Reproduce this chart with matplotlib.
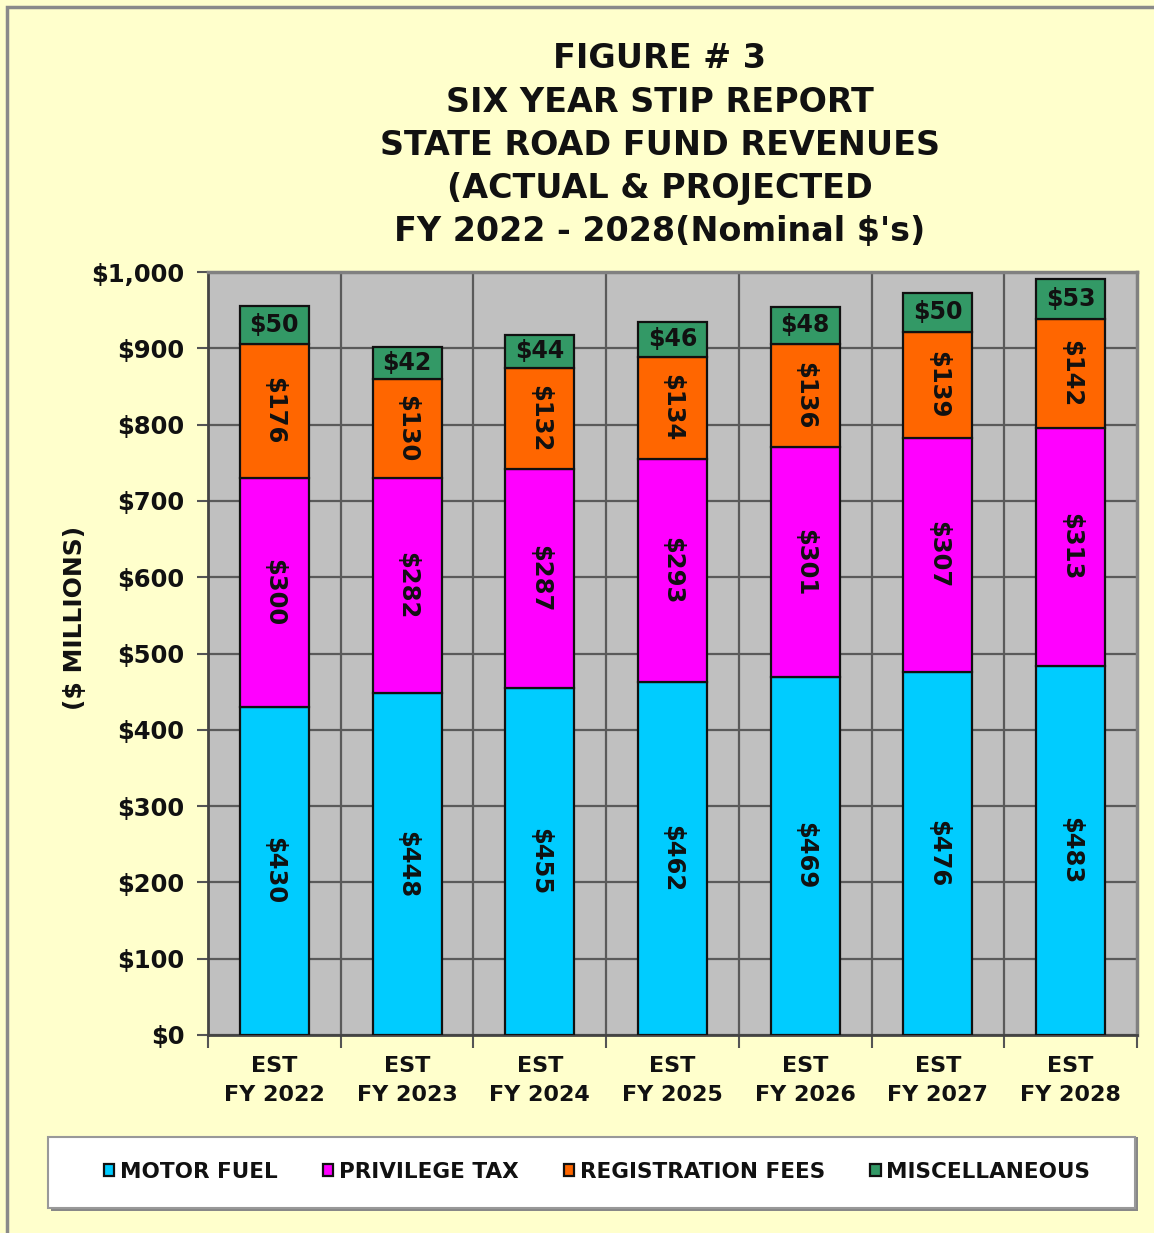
import matplotlib
matplotlib.use("Agg")
import matplotlib.pyplot as plt
import numpy as np
from matplotlib.patches import Rectangle

categories = ["EST\nFY 2022", "EST\nFY 2023", "EST\nFY 2024", "EST\nFY 2025",
              "EST\nFY 2026", "EST\nFY 2027", "EST\nFY 2028"]
motor_fuel = [430, 448, 455, 462, 469, 476, 483]
privilege_tax = [300, 282, 287, 293, 301, 307, 313]
registration_fees = [176, 130, 132, 134, 136, 139, 142]
miscellaneous = [50, 42, 44, 46, 48, 50, 53]
series_names = ["MOTOR FUEL", "PRIVILEGE TAX", "REGISTRATION FEES", "MISCELLANEOUS"]
colors = ["#00CCFF", "#FF00FF", "#FF6600", "#339966"]
yticks = [0, 100, 200, 300, 400, 500, 600, 700, 800, 900, 1000]
title_lines = ["FIGURE # 3", "SIX YEAR STIP REPORT", "STATE ROAD FUND REVENUES",
               "(ACTUAL & PROJECTED", "FY 2022 - 2028(Nominal $'s)"]

plt.rcParams['font.family'] = ['DejaVu Sans']
plt.rcParams['font.weight'] = 'bold'

W, H = 1154, 1233
fig = plt.figure(figsize=(W / 100, H / 100), dpi=100)
fig.patch.set_facecolor("#FFFFCC")

# outer border
fig.patches.append(Rectangle((7 / W, -0.05), 1.2, 1 - 7 / H + 0.05, transform=fig.transFigure,
                             fill=False, edgecolor="#8a8a8a", linewidth=2.5, zorder=0))

ax = fig.add_axes([208 / W, 1 - 1035 / H, (1137 - 208) / W, (1035 - 272) / H])
ax.set_facecolor("#C0C0C0")

x = np.arange(len(categories))
series = [motor_fuel, privilege_tax, registration_fees, miscellaneous]
bottom = np.zeros(len(categories))
bw = 0.52
for i, (vals, c) in enumerate(zip(series, colors)):
    vals = np.array(vals, dtype=float)
    ax.bar(x, vals, bw, bottom=bottom, color=c, edgecolor="#111111", linewidth=1.6,
           zorder=3, label=series_names[i])
    for xi, b, v in zip(x, bottom, vals):
        if i < 3:
            ax.text(xi, b + v / 2, f"${int(v)}", rotation=270, ha="center", va="center",
                    fontsize=17.5, fontweight="bold", color="#111111", zorder=4)
        else:
            ax.text(xi, b + v / 2, f"${int(v)}", ha="center", va="center",
                    fontsize=17, fontweight="bold", color="#111111", zorder=4)
    bottom += vals

ax.set_xlim(-0.5, len(categories) - 0.5)
ax.set_ylim(0, 1000)
ax.set_yticks(yticks)
ax.set_yticklabels([f"${v:,}" for v in yticks], fontsize=17.5, fontweight="bold", color="#111111")
ax.yaxis.grid(True, color="#5a5a5a", linewidth=1.6, zorder=1)
ax.set_axisbelow(True)
for b in np.arange(-0.5, len(categories), 1.0)[1:-1]:
    ax.axvline(b, color="#5a5a5a", linewidth=1.6, zorder=1)

ax.set_xticks(np.arange(-0.5, len(categories), 1.0))
ax.set_xticklabels([])
ax.set_xticks(x, minor=True)
ax.set_xticklabels(categories, minor=True, fontsize=16, fontweight="bold", color="#111111",
                   linespacing=1.6)
ax.tick_params(axis="x", which="minor", length=0, pad=15)
ax.tick_params(axis="x", which="major", length=9, width=1.5, color="#555555")
ax.tick_params(axis="y", length=8, width=1.5, color="#555555", pad=9)

for s in ["top", "right"]:
    ax.spines[s].set_color("#808080")
    ax.spines[s].set_linewidth(2.5)
for s in ["left", "bottom"]:
    ax.spines[s].set_color("#444444")
    ax.spines[s].set_linewidth(2)

fig.text(75 / W, 1 - 618 / H, "($ MILLIONS)", rotation=90, ha="center", va="center",
         fontsize=18, fontweight="bold", color="#111111")

for k, line in enumerate(title_lines):
    fig.text(660 / W, 1 - (59 + 43.2 * k) / H, line, ha="center", va="center",
             fontsize=24, fontweight="bold", color="#111111")

# legend box
fig.patches.append(Rectangle((51 / W, 1 - 1211 / H), (1138 - 51) / W, (1211 - 1137) / H,
                             transform=fig.transFigure, facecolor="#888888",
                             edgecolor="none", zorder=1))
fig.patches.append(Rectangle((48 / W, 1 - 1208 / H), (1135 - 48) / W, (1208 - 1137) / H,
                             transform=fig.transFigure, facecolor="white",
                             edgecolor="#999999", linewidth=1.5, zorder=2))
handles, labels = ax.get_legend_handles_labels()
leg = fig.legend(handles, labels, loc="center", bbox_to_anchor=(597 / W, 1 - 1172 / H),
                 ncol=4, frameon=False, fontsize=15.5, handlelength=0.5, handleheight=0.5,
                 handletextpad=0.25, columnspacing=2.1)
for t in leg.get_texts():
    t.set_fontweight("bold")
    t.set_color("#111111")
leg.set_zorder(5)

fig.savefig("out.png", dpi=100, facecolor=fig.get_facecolor())
